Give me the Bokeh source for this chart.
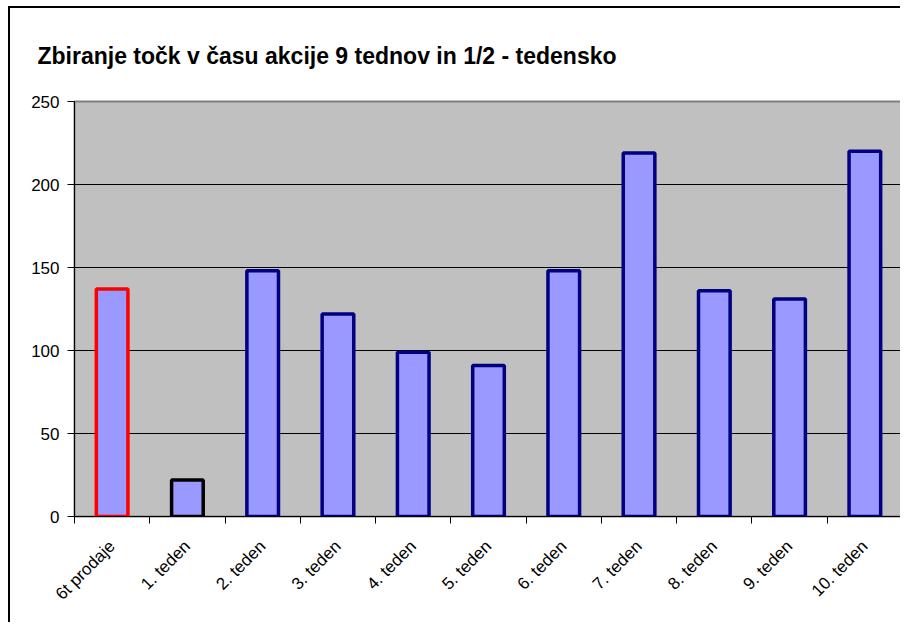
from bokeh.plotting import figure
from bokeh.models import Range1d, FixedTicker, ColumnDataSource, CustomJSTickFormatter
from bokeh.embed import file_html
from bokeh.resources import INLINE

title_text = "Zbiranje točk v času akcije 9 tednov in 1/2 - tedensko"
categories = ["6t prodaje", "1. teden", "2. teden", "3. teden", "4. teden", "5. teden",
              "6. teden", "7. teden", "8. teden", "9. teden", "10. teden"]
values = [137, 22, 148, 122, 99, 91, 148, 219, 136, 131, 220]
outline_colors = ["#FF0000", "#000000"] + ["#000080"] * 9
y_ticks = [0, 50, 100, 150, 200, 250]
grid_ticks = [50, 100, 150, 200]

n = len(categories)
x_pos = [i + 0.5 for i in range(n)]
src = ColumnDataSource(dict(x=x_pos, top=values, line=outline_colors))

FONT = "Liberation Sans"

p = figure(width=892, height=616, output_backend="svg", toolbar_location=None,
           x_range=Range1d(0, n), y_range=Range1d(0, 250),
           min_border_left=64, min_border_right=0, min_border_top=93, min_border_bottom=108,
           background_fill_color="#C0C0C0", border_fill_color="white")
p.styles = {"border-left": "2px solid black", "border-top": "2px solid black",
            "margin-left": "8px", "margin-top": "6px"}

p.title.text = title_text
p.title.text_font = FONT
p.title.text_font_size = "23px"
p.title.text_font_style = "bold"
p.title.text_color = "black"
p.title.align = "left"
p.title.offset = -37
p.title.standoff = 65

p.outline_line_color = "#808080"
p.outline_line_width = 2

p.vbar(x="x", top="top", width=0.42, bottom=0, source=src,
       fill_color="#9999FF", line_color="line", line_width=3.5)

p.xgrid.visible = False
p.ygrid.ticker = FixedTicker(ticks=grid_ticks)
p.ygrid.grid_line_color = "black"
p.ygrid.grid_line_width = 1

yax = p.yaxis[0]
yax.ticker = FixedTicker(ticks=y_ticks, minor_ticks=[])
yax.axis_line_color = "black"
yax.major_tick_in = 0
yax.major_tick_out = 7
yax.minor_tick_out = 0
yax.major_label_text_font = FONT
yax.major_label_text_font_size = "17px"
yax.major_label_text_color = "black"
yax.major_label_standoff = 8

xax = p.xaxis[0]
xax.ticker = FixedTicker(ticks=x_pos, minor_ticks=list(range(n + 1)))
xax.formatter = CustomJSTickFormatter(args=dict(labels=categories),
                                      code="return labels[Math.floor(tick)];")
xax.axis_line_color = "black"
xax.major_tick_in = 0
xax.major_tick_out = 0
xax.minor_tick_in = 0
xax.minor_tick_out = 7
xax.major_label_orientation = 0.785398
xax.major_label_text_font = FONT
xax.major_label_text_font_size = "17px"
xax.major_label_text_color = "black"
xax.major_label_standoff = 20

open("out.html", "w").write(file_html(p, INLINE))
